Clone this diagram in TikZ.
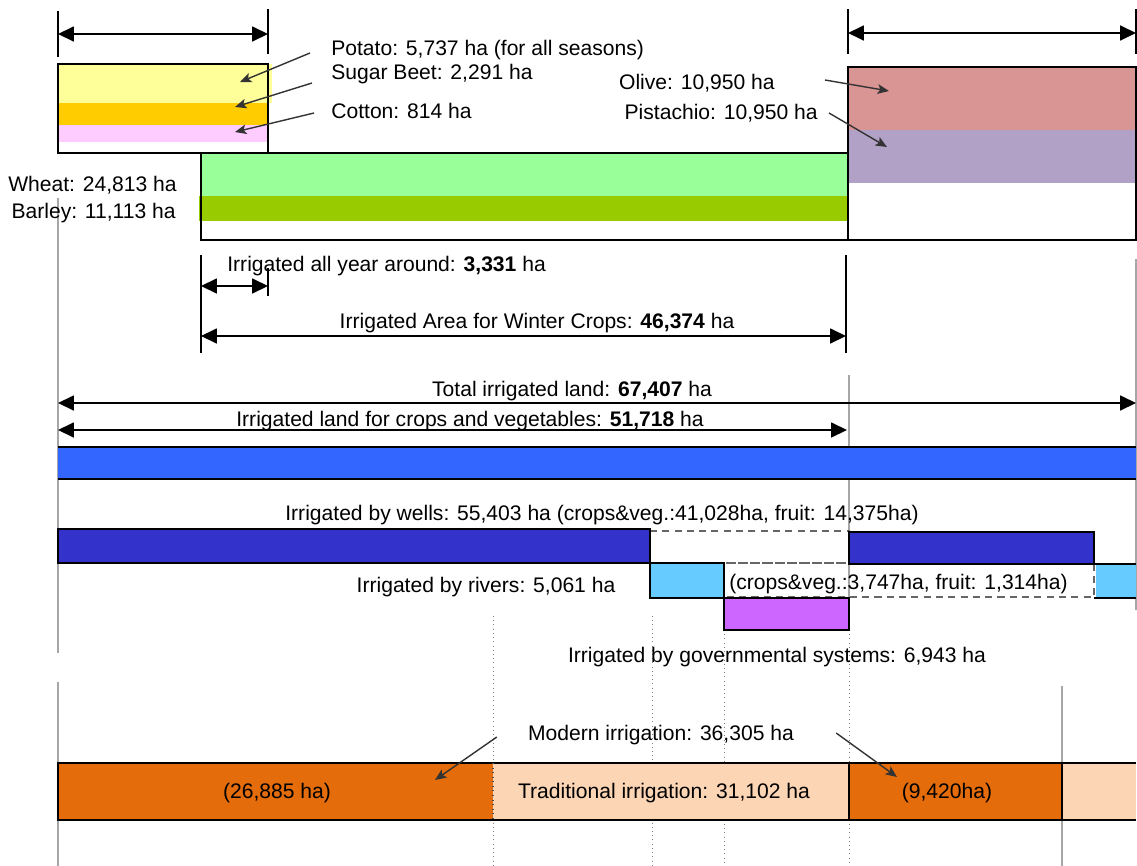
\documentclass[tikz,border=0pt]{standalone}
\usepackage{fontspec}
\setmainfont{Liberation Sans}
\usepackage{xcolor}
\usetikzlibrary{arrows.meta, calc, positioning}

\definecolor{potatoyellow}{HTML}{FFFF99}
\definecolor{beetorange}{HTML}{FFCC00}
\definecolor{cottonpink}{HTML}{FFCCFF}
\definecolor{wheatgreen}{HTML}{99FF99}
\definecolor{barleygreen}{HTML}{99CC00}
\definecolor{olivered}{HTML}{D99594}
\definecolor{pistachiopurple}{HTML}{B2A1C7}
\definecolor{totalblue}{HTML}{3366FF}
\definecolor{wellsblue}{HTML}{3333CC}
\definecolor{riversblue}{HTML}{66CCFF}
\definecolor{govpurple}{HTML}{CC66FF}
\definecolor{modernorange}{HTML}{E46C0A}
\definecolor{tradpeach}{HTML}{FCD5B5}

\tikzset{
  dimarrow/.style={{Triangle[length=9pt,width=8.5pt]}-{Triangle[length=9pt,width=8.5pt]}, line width=0.8pt},
  dimtick/.style={line width=1.3pt},
  pointer/.style={-{Stealth[length=6.5pt,width=5.5pt,inset=1.5pt]}, draw=black!80, line width=0.8pt},
  barframe/.style={draw=black, line width=1.6pt},
  thinframe/.style={draw=black, line width=1.1pt},
  guide/.style={draw=black!35, line width=0.6pt},
  dotguide/.style={draw=black!50, line width=0.4pt, dotted},
  gapbox/.style={draw=black!60, dashed, dash pattern=on 4pt off 3pt, line width=0.8pt},
  lbl/.style={inner sep=0pt, font=\fontsize{12}{14}\selectfont},
}

\begin{document}
\begin{tikzpicture}[x=0.02cm, y=-0.02cm]
\useasboundingbox (0,0) rectangle (1137,866);

% Define positions
\def\xl{58}
\def\xa{201}
\def\xb{268}
\def\xc{848}
\def\xr{1136}

% Draw the guide lines
\draw[guide] (\xl,198) -- (\xl,653);
\draw[guide] (\xl,682) -- (\xl,866);
\draw[guide] (849,375) -- (849,630);
\draw[guide] (\xr,259) -- (\xr,610);
\draw[guide] (1062,686) -- (1062,866);
\draw[dotguide] (493,616) -- (493,866);
\draw[dotguide] (652,616) -- (652,866);
\draw[dotguide] (724,630) -- (724,866);
\draw[dotguide] (849,630) -- (849,866);

% Draw the summer crop box
\fill[potatoyellow] (\xl,64) rectangle (272,103);
\fill[beetorange] (\xl,103) rectangle (\xb,125);
\fill[cottonpink] (\xl,125) rectangle (\xb,142);
\draw[barframe] (\xl,64) rectangle (\xb,153);

% Draw the winter crop box
\fill[wheatgreen] (\xa,153) rectangle (\xc,196);
\fill[barleygreen] (199,196) rectangle (\xc,221);
\draw[barframe] (\xa,153) rectangle (\xc,240);

% Draw the fruit box
\fill[olivered] (\xc,67) rectangle (\xr,130);
\fill[pistachiopurple] (\xc,130) rectangle (\xr,183);
\draw[barframe] (\xc,67) rectangle (\xr,240);

% Top dimension arrows
\draw[dimtick] (\xl,11) -- (\xl,57);
\draw[dimtick] (\xb,9) -- (\xb,54);
\coordinate (summerL) at (\xl,34);
\coordinate (summerR) at (\xb,34);
\draw[dimarrow] (summerL) -- (summerR);

\draw[dimtick] (\xc,9) -- (\xc,54);
\draw[dimtick] (\xr,9) -- (\xr,54);
\coordinate (fruitL) at (\xc,33);
\coordinate (fruitR) at (\xr,33);
\draw[dimarrow] (fruitL) -- (fruitR);

% Crop labels with pointers
\node[lbl, anchor=west] (potato) at (331,50) {Potato: 5,737 ha (for all seasons)};
\node[lbl, anchor=west] (beet) at (331,74) {Sugar Beet: 2,291 ha};
\node[lbl, anchor=west] (cotton) at (331,111) {Cotton: 814 ha};
\node[lbl, anchor=east] (olive) at (775,83) {Olive: 10,950 ha};
\node[lbl, anchor=east] (pistachio) at (818,113) {Pistachio: 10,950 ha};
\node[lbl, anchor=east] (wheat) at (177,185) {Wheat: 24,813 ha};
\node[lbl, anchor=east] (barley) at (176,213) {Barley: 11,113 ha};

\coordinate (potatotip) at (240,82);
\coordinate (beettip) at (235,107);
\coordinate (cottontip) at (235,132);
\coordinate (olivetip) at (889,91);
\coordinate (pistachiotip) at (887,147);
\draw[pointer] ([shift={(-21,3)}]potato.west) -- (potatotip);
\draw[pointer] ([shift={(-19,9)}]beet.west) -- (beettip);
\draw[pointer] ([shift={(-17,2)}]cotton.west) -- (cottontip);
\draw[pointer] ([shift={(50,-3)}]olive.east) -- (olivetip);
\draw[pointer] ([shift={(11,0)}]pistachio.east) -- (pistachiotip);

% Winter crop dimensions
\draw[dimtick] (\xa,255) -- (\xa,353);
\draw[dimtick] (\xb,268) -- (\xb,296);
\draw[dimtick] (846,255) -- (846,353);
\coordinate (yearL) at (\xa,286);
\coordinate (yearR) at (\xb,286);
\coordinate (winterL) at (\xa,336);
\coordinate (winterR) at (846,336);
\draw[dimarrow] (yearL) -- (yearR);
\draw[dimarrow] (winterL) -- (winterR);
\node[lbl, anchor=west] (allyear) at (227,266) {Irrigated all year around: \textbf{3,331} ha};
\node[lbl] (winter) at (537,323) {Irrigated Area for Winter Crops: \textbf{46,374} ha};

% Total irrigated land
\coordinate (totalL) at (\xl,403);
\coordinate (totalR) at (\xr,403);
\coordinate (cropL) at (\xl,430);
\coordinate (cropR) at (847,430);
\draw[dimarrow] (totalL) -- (totalR);
\draw[dimarrow] (cropL) -- (cropR);
\node[lbl] (total) at (572,391) {Total irrigated land: \textbf{67,407} ha};
\node[lbl] (cropveg) at (470,421) {Irrigated land for crops and vegetables: \textbf{51,718} ha};

\fill[totalblue] (\xl,447) rectangle (\xr,479);
\draw[line width=1.3pt] (\xl,447) -- (\xr,447);
\draw[line width=1.3pt] (\xl,479) -- (\xr,479);

% Wells, rivers and governmental systems
\draw[gapbox] (650,531) rectangle (849,563);
\draw[gapbox] (724,563) rectangle (1094,597);
\draw[thinframe, fill=wellsblue] (\xl,529) rectangle (650,563);
\draw[thinframe, fill=wellsblue] (849,532) rectangle (1094,564);
\draw[thinframe, fill=riversblue] (650,563) rectangle (724,598);
\fill[riversblue] (1096,564) rectangle (\xr,598);
\draw[thinframe] (\xr,564) -- (1094,564);
\draw[thinframe] (1094,598) -- (\xr,598);
\draw[thinframe, fill=govpurple] (724,598) rectangle (849,630);

\node[lbl] (wells) at (602,515) {Irrigated by wells: 55,403 ha (crops\&veg.:41,028ha, fruit: 14,375ha)};
\node[lbl] (rivers) at (486,587) {Irrigated by rivers: 5,061 ha};
\node[lbl, anchor=west] (riversplit) at (729,584) {(crops\&veg.:3,747ha, fruit: 1,314ha)};
\node[lbl] (govern) at (777,657) {Irrigated by governmental systems: 6,943 ha};

% Modern and traditional irrigation
\fill[modernorange] (\xl,763) rectangle (493,820);
\fill[tradpeach] (493,763) rectangle (849,820);
\fill[modernorange] (849,763) rectangle (1062,820);
\fill[tradpeach] (1062,763) rectangle (\xr,820);
\draw[line width=1.5pt] (\xr,763) -- (\xl,763) -- (\xl,820) -- (\xr,820);
\draw[thinframe] (849,763) -- (849,820);
\draw[thinframe] (1062,763) -- (1062,820);
\draw[black!70, line width=0.6pt, dotted] (493,763) -- (493,820);

\node[lbl] (modern) at (661,735) {Modern irrigation: 36,305 ha};
\node[lbl] (modernA) at (277,793) {(26,885 ha)};
\node[lbl] (tradition) at (664,793) {Traditional irrigation: 31,102 ha};
\node[lbl] (modernB) at (947,793) {(9,420ha)};

\coordinate (modernAtip) at (435,780);
\coordinate (modernBtip) at (897,777);
\draw[pointer] ([shift={(-31,2)}]modern.west) -- (modernAtip);
\draw[pointer] ([shift={(42,-2)}]modern.east) -- (modernBtip);

\end{tikzpicture}
\end{document}
